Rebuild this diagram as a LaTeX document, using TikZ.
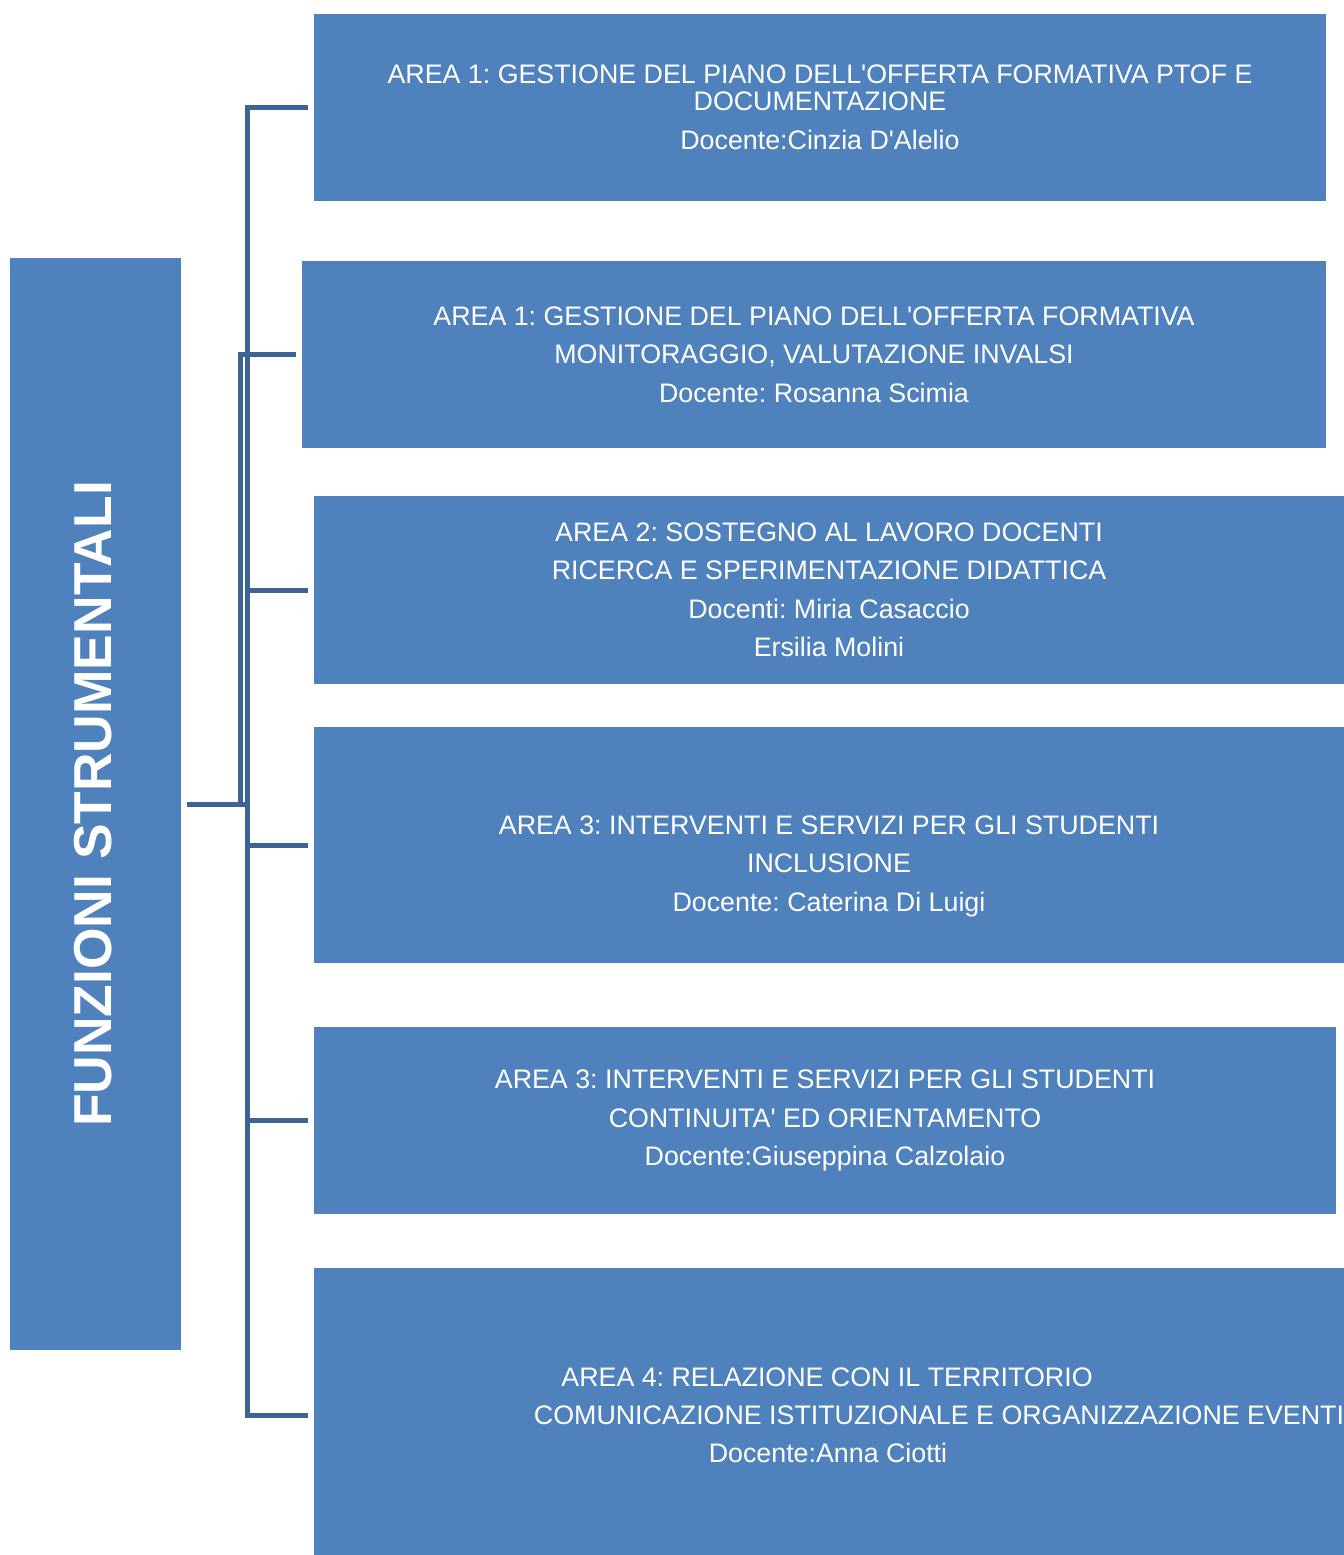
\documentclass[tikz,border=0pt]{standalone}
\usepackage{fontspec}
\setmainfont{Liberation Sans}
\usetikzlibrary{calc}
\frenchspacing
\definecolor{boxblue}{RGB}{79,129,189}
\definecolor{linkblue}{RGB}{60,101,150}
\tikzset{
  area/.style={fill=boxblue, text=white, align=center, inner sep=0pt,
    font=\fontsize{13.4}{19.25}\selectfont},
  areatext/.style={text=white, align=center, inner sep=0pt,
    font=\fontsize{13.4}{19.25}\selectfont},
  link/.style={draw=linkblue, line width=2.5pt}
}
\def\q{\textquotesingle}

\begin{document}
\begin{tikzpicture}[x=0.5pt, y=-0.5pt]
		%%%%% START %%%%%
		\useasboundingbox (0,0) rectangle (1344,1555);
		
		\node[fill=boxblue, minimum width=85.5pt, minimum height=546pt, inner sep=0pt] (main) at (95.5,804) {};
		\node[text=white, rotate=90, font=\fontsize{26.7}{30}\selectfont\bfseries] (title) at (93,804) {FUNZIONI STRUMENTALI};
		
		\node[area, minimum width=506pt, minimum height=93.5pt] (a1) at (820,107.5)
		  {AREA 1: GESTIONE DEL PIANO DELL\q OFFERTA FORMATIVA PTOF E\\[-5.75pt]
		   DOCUMENTAZIONE\\[0.5pt] Docente:Cinzia D\q Alelio};
		\node[area, minimum width=512pt, minimum height=93.5pt] (a2) at (814,354.5)
		  {AREA 1: GESTIONE DEL PIANO DELL\q OFFERTA FORMATIVA\\
		   MONITORAGGIO, VALUTAZIONE INVALSI\\ Docente: Rosanna Scimia};
		\node[area, minimum width=515pt, minimum height=94pt] (a3) at (829,590)
		  {AREA 2: SOSTEGNO AL LAVORO DOCENTI\\ RICERCA E SPERIMENTAZIONE DIDATTICA\\
		   Docenti: Miria Casaccio\\ Ersilia Molini};
		
		\node[area, minimum width=515pt, minimum height=118pt] (a4) at (829,845) {};
		\node[areatext] (a4text) at (829,866) {AREA 3: INTERVENTI E SERVIZI PER GLI STUDENTI\\
		   INCLUSIONE\\ Docente: Caterina Di Luigi};
		
		\node[area, minimum width=511pt, minimum height=93.5pt] (a5) at (825,1120.5)
		  {AREA 3: INTERVENTI E SERVIZI PER GLI STUDENTI\\
		   CONTINUITA\q{} ED ORIENTAMENTO\\ Docente:Giuseppina Calzolaio};
		
		\node[area, minimum width=515pt, minimum height=143.5pt] (a6) at (829,1411.5) {};
		\node[areatext] (a6l1) at (827,1377) {AREA 4: RELAZIONE CON IL TERRITORIO};
		\node[areatext] (a6l2) at (939,1415) {COMUNICAZIONE ISTITUZIONALE E ORGANIZZAZIONE EVENTI};
		\node[areatext] (a6l3) at (828,1453) {Docente:Anna Ciotti};
		
		% connectors
		\coordinate (spine) at (247,800);
		\coordinate (hub) at (240,800);
		\draw[link] ([xshift=-3pt]a1.west) -| (spine) |- ([xshift=-3pt,yshift=-1.75pt]a6.west);
		\foreach \n in {3,4,5}
		  \draw[link] (spine |- a\n.west) -- ([xshift=-3pt]a\n.west);
		\draw[link] ([xshift=3pt]main.east) -- (main.east -| spine);
		\draw[link] (main.east -| hub) -- (hub) |- ([xshift=-3pt]a2.west);
		
		%%%%% END %%%%%
\end{tikzpicture}
\end{document}
